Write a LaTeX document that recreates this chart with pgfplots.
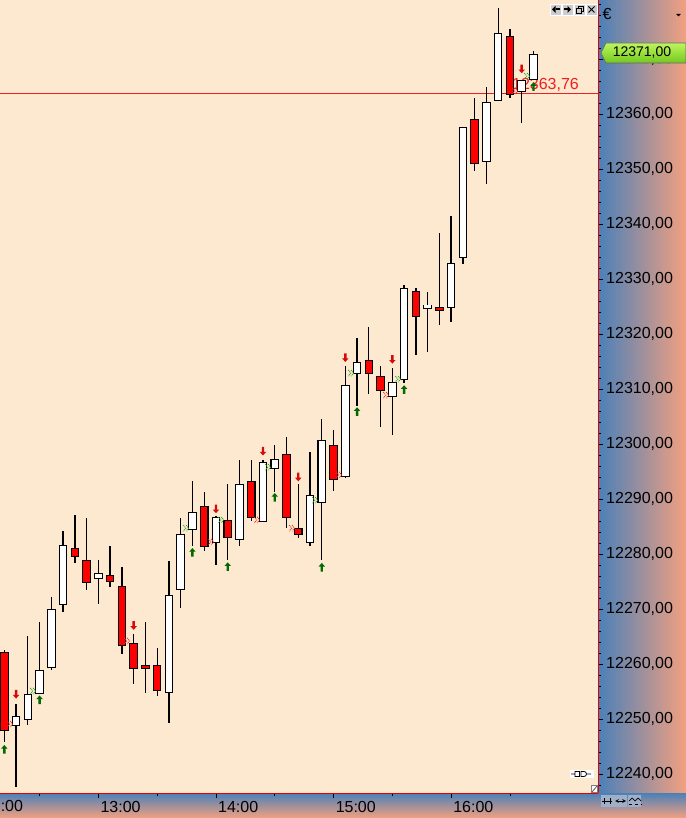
\documentclass[border=0pt]{standalone}
\usepackage{pgfplots}
\pgfplotsset{compat=1.18}
\usepackage{pgfplotstable}
\usepackage{fontspec}
\setmainfont{Liberation Sans}

\definecolor{chartbg}{RGB}{252,233,207}
\definecolor{panelblue}{RGB}{74,128,184}
\definecolor{panelsalmon}{RGB}{243,160,128}
\definecolor{candlered}{RGB}{255,0,0}
\definecolor{sigred}{RGB}{215,10,10}
\definecolor{siggreen}{RGB}{0,105,0}
\definecolor{chevgreen}{RGB}{40,165,40}
\definecolor{chevred}{RGB}{235,40,40}
\definecolor{labelred}{RGB}{240,30,30}
\definecolor{tagtop}{RGB}{190,245,95}
\definecolor{tagbot}{RGB}{115,200,30}
\definecolor{btngray}{RGB}{205,205,205}
\definecolor{btnblue}{RGB}{160,175,200}

\newcommand\tickfont{\fontsize{16bp}{18bp}\selectfont}

% 6-minute candles, n = bar index (n=8 is 13:00)
\pgfplotstableread{
n  o        h        l        c
1  12248.8  12252.9  12237.7  12250.5
2  12249.9  12265.1  12248.8  12254.5
3  12254.8  12267.6  12254.8  12259.0
4  12259.4  12272.1  12258.9  12269.9
5  12271.0  12284.2  12269.5  12281.6
8  12275.6  12279.0  12271.0  12276.5
14 12254.9  12278.6  12249.3  12272.5
15 12273.6  12286.7  12270.4  12283.6
16 12284.6  12293.3  12281.5  12287.6
18 12282.1  12286.9  12278.0  12286.7
20 12282.7  12297.2  12281.5  12292.7
22 12286.1  12297.2  12286.1  12296.7
23 12295.6  12299.8  12291.3  12297.2
26 12282.1  12298.7  12281.5  12290.7
27 12289.6  12304.7  12279.0  12300.7
29 12294.1  12314.3  12293.8  12310.7
30 12312.85 12319.3  12307.0  12314.85
33 12308.7  12313.8  12301.7  12311.2
34 12311.8  12328.9  12311.2  12328.3
36 12324.85 12327.8  12316.8  12325.4
38 12324.8  12341.5  12322.2  12332.85
39 12333.9  12357.6  12332.85 12357.6
41 12351.4  12365.1  12347.4  12362.1
42 12362.55 12379.3  12362.5  12374.7
44 12364.2  12366.1  12358.5  12366.1
45 12366.5  12371.5  12366.5  12371.0
}\upbars

\pgfplotstableread{
n  o        h        l        c
0  12262.0  12262.5  12245.9  12247.9
6  12281.0  12287.1  12278.4  12279.6
7  12279.0  12286.7  12273.5  12275.0
9  12276.1  12281.6  12274.1  12275.0
10 12274.1  12277.6  12261.9  12263.3
11 12263.9  12265.6  12256.4  12259.3
12 12259.9  12267.6  12254.8  12259.4
13 12259.9  12263.1  12254.4  12255.3
17 12288.7  12291.3  12280.6  12281.5
19 12286.1  12292.7  12278.9  12283.0
21 12293.2  12297.2  12286.1  12286.6
24 12298.1  12301.2  12284.7  12286.6
25 12284.7  12292.7  12283.0  12283.6
28 12299.8  12302.7  12291.5  12293.6
31 12315.2  12321.5  12309.2  12312.85
32 12312.3  12314.3  12303.2  12309.8
35 12327.8  12328.4  12316.2  12323.3
37 12324.85 12338.5  12321.8  12324.3
40 12359.1  12363.0  12349.8  12351.0
43 12374.1  12375.6  12363.0  12363.6
}\dnbars

\pgfdeclareplotmark{uparr}{%
  \pgfpathmoveto{\pgfqpoint{0bp}{4.3bp}}%
  \pgfpathlineto{\pgfqpoint{3.2bp}{0.7bp}}%
  \pgfpathlineto{\pgfqpoint{1.2bp}{0.7bp}}%
  \pgfpathlineto{\pgfqpoint{1.2bp}{-4.3bp}}%
  \pgfpathlineto{\pgfqpoint{-1.2bp}{-4.3bp}}%
  \pgfpathlineto{\pgfqpoint{-1.2bp}{0.7bp}}%
  \pgfpathlineto{\pgfqpoint{-3.2bp}{0.7bp}}%
  \pgfpathclose\pgfusepathqfill}
\pgfdeclareplotmark{dnarr}{%
  \pgfpathmoveto{\pgfqpoint{0bp}{-4.3bp}}%
  \pgfpathlineto{\pgfqpoint{3.2bp}{-0.7bp}}%
  \pgfpathlineto{\pgfqpoint{1.2bp}{-0.7bp}}%
  \pgfpathlineto{\pgfqpoint{1.2bp}{4.3bp}}%
  \pgfpathlineto{\pgfqpoint{-1.2bp}{4.3bp}}%
  \pgfpathlineto{\pgfqpoint{-1.2bp}{-0.7bp}}%
  \pgfpathlineto{\pgfqpoint{-3.2bp}{-0.7bp}}%
  \pgfpathclose\pgfusepathqfill}
\pgfdeclareplotmark{chev}{%
  \pgfsetlinewidth{0.9bp}%
  \pgfsetdash{{0.9bp}{0.9bp}}{0bp}%
  \pgfpathmoveto{\pgfqpoint{-2.6bp}{3bp}}%
  \pgfpathlineto{\pgfqpoint{-0.2bp}{0bp}}%
  \pgfpathlineto{\pgfqpoint{-2.6bp}{-3bp}}%
  \pgfpathmoveto{\pgfqpoint{0.2bp}{3bp}}%
  \pgfpathlineto{\pgfqpoint{2.6bp}{0bp}}%
  \pgfpathlineto{\pgfqpoint{0.2bp}{-3bp}}%
  \pgfusepathqstroke}

\pgfplotsset{candle/.style={draw=none, mark=none, forget plot,
  error bars/y dir=both, error bars/y explicit, error bars/error mark=none}}

\begin{document}
\begin{tikzpicture}
% side panels
\shade[left color=panelblue, right color=panelsalmon] (598bp,-25bp) rectangle (686bp,793bp);
\shade[top color=panelblue, bottom color=panelsalmon] (0bp,-25bp) rectangle (686bp,0bp);

\begin{axis}[
    at={(0,0)}, anchor=south west,
    scale only axis, width=598bp, height=793bp,
    xmin=-0.366, xmax=50.49,
    ymin=12236.55, ymax=12380.73,
    axis background/.style={fill=chartbg},
    axis x line*=bottom, axis y line*=right,
    axis line style={draw=red!90!black, line width=1bp},
    tick align=outside,
    tick style={black, line width=0.8bp},
    major tick length=5bp, minor tick length=3bp,
    xtick={8,18,28,38}, xticklabels={13:00,14:00,15:00,16:00},
    minor xtick={3,13,23,33,43},
    ytick={12240,12250,...,12370},
    minor ytick={12238,12240,...,12380},
    scaled y ticks=false,
    /pgf/number format/assume math mode=true,
    ticklabel style={font=\tickfont, inner sep=0pt},
    xticklabel style={anchor=north west, xshift=2bp, yshift=-3bp},
    yticklabel style={anchor=west, xshift=3bp,
      /pgf/number format/fixed, /pgf/number format/fixed zerofill,
      /pgf/number format/precision=2, /pgf/number format/use comma,
      /pgf/number format/1000 sep={}},
]
% last price line
\addplot[labelred, line width=1bp, forget plot] coordinates {(-1,12363.76) (52,12363.76)};
\node[anchor=west, inner sep=0pt, text=labelred, font=\tickfont] at (axis cs:43.17,12365.3) {12363,76};

% wicks
\addplot[candle, error bars/error bar style={draw=black, line width=1.3bp, solid}]
  table[x=n, y expr={(\thisrow{h}+\thisrow{l})/2}, y error expr={(\thisrow{h}-\thisrow{l})/2}] {\upbars};
\addplot[candle, error bars/error bar style={draw=black, line width=1.3bp, solid}]
  table[x=n, y expr={(\thisrow{h}+\thisrow{l})/2}, y error expr={(\thisrow{h}-\thisrow{l})/2}] {\dnbars};
% body outlines
\addplot[candle, error bars/error bar style={draw=black, line width=8.6bp, solid}]
  table[x=n, y expr={(\thisrow{o}+\thisrow{c})/2}, y error expr={abs(\thisrow{c}-\thisrow{o})/2+0.09}] {\upbars};
\addplot[candle, error bars/error bar style={draw=black, line width=8.6bp, solid}]
  table[x=n, y expr={(\thisrow{o}+\thisrow{c})/2}, y error expr={abs(\thisrow{c}-\thisrow{o})/2+0.09}] {\dnbars};
% body fills
\addplot[candle, error bars/error bar style={draw=white, line width=6.4bp, solid}]
  table[x=n, y expr={(\thisrow{o}+\thisrow{c})/2}, y error expr={max(abs(\thisrow{c}-\thisrow{o})/2-0.09,0.03)}] {\upbars};
\addplot[candle, error bars/error bar style={draw=candlered, line width=6.4bp, solid}]
  table[x=n, y expr={(\thisrow{o}+\thisrow{c})/2}, y error expr={max(abs(\thisrow{c}-\thisrow{o})/2-0.09,0.03)}] {\dnbars};

% signal arrows
\addplot[only marks, mark=uparr, siggreen, forget plot] coordinates {
 (0,12244.5) (3,12253.5) (16,12280.3) (19,12277.7) (23,12290.3)
 (27,12277.6) (30,12305.9) (34,12309.9) (45,12365.0)};
\addplot[only marks, mark=dnarr, sigred, forget plot] coordinates {
 (1,12254.5) (11,12267.0) (18,12288.2) (22,12298.7) (25,12294.0)
 (29,12315.7) (33,12315.4) (44,12368.2)};
% fill markers
\addplot[only marks, mark=chev, chevgreen, forget plot] coordinates {
 (2.44,12255.1) (15.45,12284.7) (18.43,12286.2) (22.42,12295.8)
 (26.42,12289.8) (29.48,12312.9) (33.48,12311.8) (44.45,12366.9)};
\addplot[only marks, mark=chev, chevred, forget plot] coordinates {
 (0.48,12249.1) (10.43,12264.2) (17.58,12282.2) (21.49,12286.2)
 (24.46,12284.7) (28.46,12294.4) (32.46,12308.9) (43.43,12364.2)};
\end{axis}

% clipped 12:00 label at the left edge
\node[anchor=north west, inner sep=0pt, font=\tickfont] at (-17.2bp,-7.5bp) {12:00};

% last price tag
\shade[top color=tagtop, bottom color=tagbot, draw=black!60, line width=0.6bp]
  (601bp,740bp) -- (606bp,750bp) -- (686bp,750bp) -- (686bp,730bp) -- (606bp,730bp) -- cycle;
\node[inner sep=0pt, font=\fontsize{14bp}{16bp}\selectfont] at (642bp,740bp) {12371,00};

% currency and menu
\node[inner sep=0pt, font=\tickfont] at (607bp,779bp) {€};
\fill[black] (676bp,779bp) -- (681bp,779bp) -- (678.5bp,776.5bp) -- cycle;

% window buttons
\foreach \bx in {550,562,574,586}
  \draw[fill=btngray, draw=white] (\bx bp,778bp) rectangle ++(11bp,11bp);
\fill (552bp,783.5bp) -- (555.5bp,787bp) -- (555.5bp,780bp) -- cycle;
\fill (555.5bp,782.5bp) rectangle (559.5bp,784.5bp);
\fill (571bp,783.5bp) -- (567.5bp,787bp) -- (567.5bp,780bp) -- cycle;
\fill (563.5bp,782.5bp) rectangle (567.5bp,784.5bp);
\draw[line width=0.8bp] (578bp,782bp) rectangle (583bp,787bp);
\fill (578bp,786bp) rectangle (583bp,787.3bp);
\draw[line width=0.8bp, fill=btngray] (576bp,779.7bp) rectangle (581bp,784.5bp);
\fill (576bp,783.5bp) rectangle (581bp,784.8bp);
\draw[line width=0.8bp] (588.5bp,780.5bp) -- (594.5bp,786.5bp) (588.5bp,786.5bp) -- (594.5bp,780.5bp);

% bottom right buttons
\foreach \bx in {601,614,628}
  \fill[btnblue] (\bx bp,-14bp) rectangle ++(13bp,12bp);
\draw[line width=0.7bp] (602bp,-8bp) -- (612bp,-8bp) (604bp,-5bp) -- (604bp,-11bp) (610bp,-5bp) -- (610bp,-11bp);
\draw[line width=0.7bp, <->, >=stealth] (615bp,-8bp) -- (626bp,-8bp);
\draw[line width=0.7bp] (629bp,-8bp) -- (632bp,-5bp) -- (635bp,-8bp) -- (638bp,-5bp) -- (641bp,-8bp);
\draw[line width=0.6bp, dashed] (629bp,-11bp) -- (641bp,-11bp);

% link icon inside the plot
\fill[white] (570bp,15bp) rectangle (594bp,23bp);
\draw[line width=0.8bp] (571bp,19bp) -- (575bp,19bp) (575bp,16.5bp) rectangle (579.5bp,21.5bp)
  (581bp,16.5bp) -- (584bp,16.5bp) arc (-90:90:2.5bp) -- (581bp,21.5bp) -- cycle (586.5bp,19bp) -- (591bp,19bp);
% resize grip
\draw[fill=white, draw=black!50, line width=0.5bp] (591bp,0.5bp) rectangle (597.5bp,7.5bp);
\draw[black!70, line width=0.7bp] (592bp,1bp) -- (597bp,7bp);

\pgfresetboundingbox
\path[use as bounding box] (0bp,-25bp) rectangle (686bp,793bp);
\end{tikzpicture}
\end{document}
